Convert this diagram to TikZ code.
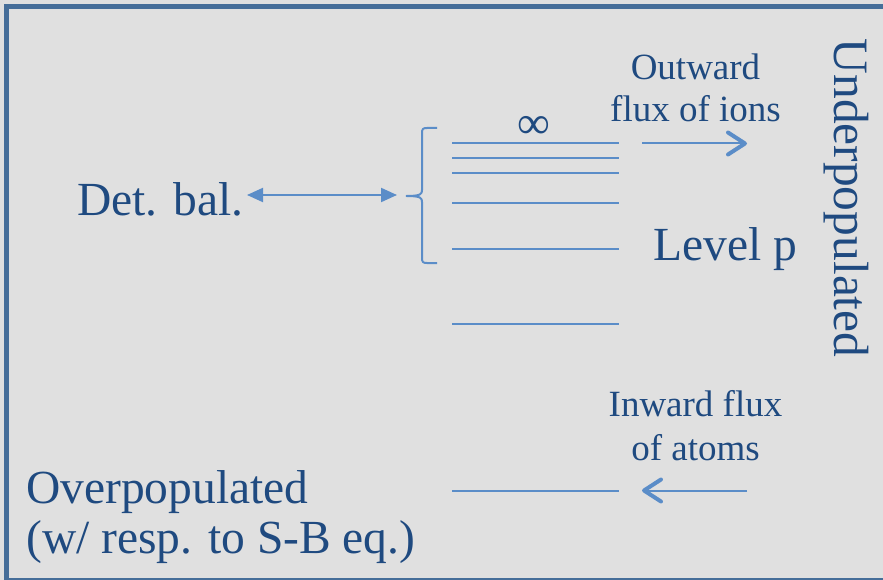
\documentclass[tikz,border=0pt]{standalone}
\usepackage{fontspec}
\setmainfont{Liberation Serif}
\usetikzlibrary{arrows.meta}
\definecolor{bg}{HTML}{E0E0E0}
\definecolor{frame}{HTML}{466E99}
\definecolor{txt}{HTML}{1F4A80}
\definecolor{ln}{HTML}{5B8DC8}
\tikzset{
  big/.style={font=\fontsize{47.5}{50}\selectfont, text=txt, inner sep=0pt},
  small/.style={font=\fontsize{37}{40}\selectfont, text=txt, inner sep=0pt},
  level/.style={draw=ln, line width=2pt},
  chev/.style={draw=ln, line width=2pt, -{Straight Barb[length=17pt,width=22pt,line width=4pt,round]}},
  dbl/.style={draw=ln, line width=2pt, {Triangle[length=16pt,width=14pt]}-{Triangle[length=16pt,width=14pt]}},
}
\begin{document}
\begin{tikzpicture}[x=1pt,y=-1pt]
\useasboundingbox (0,0) rectangle (883,580);
\begin{scope}
\clip (0,0) rectangle (883,580);
\fill[bg] (0,0) rectangle (883,580);
\draw[frame, line width=5pt] (6.5,7) rectangle (900,580.5);
\end{scope}

% energy levels
\coordinate (l1a) at (452,143); \coordinate (l1b) at (619,143);
\coordinate (l2a) at (452,158); \coordinate (l2b) at (619,158);
\coordinate (l3a) at (452,173); \coordinate (l3b) at (619,173);
\coordinate (l4a) at (452,203.5); \coordinate (l4b) at (619,203.5);
\coordinate (l5a) at (452,248.5); \coordinate (l5b) at (619,248.5);
\coordinate (l6a) at (452,323.5); \coordinate (l6b) at (619,323.5);
\coordinate (l7a) at (452,490.5); \coordinate (l7b) at (619,490.5);
\foreach \i in {1,...,7} {\draw[level] (l\i a) -- (l\i b);}

\node[font=\fontsize{46}{48}\selectfont, text=txt, inner sep=0pt, anchor=base] (inf) at (534,139) {∞};

% brace
\coordinate (brtip) at (406.5,196);
\draw[ln, line width=2pt, line join=round]
  (437,128) -- (427,128) .. controls (423,128) and (422,129) .. (422,133)
  -- (422,190) .. controls (422,194) and (421,196) .. (brtip)
  .. controls (421,196) and (422,198) .. (422,202)
  -- (422,258) .. controls (422,262) and (423,263) .. (427,263) -- (437,263);

% texts
\node[big, anchor=base west] (det) at (77,215) {Det. bal.};
\node[big, anchor=base west] (lev) at (653,260) {Level p};
\node[big, anchor=base west] (over1) at (26,503) {Overpopulated};
\node[big, anchor=base west] (over2) at (26,553) {(w/ resp. to S-B eq.)};
\node[font=\fontsize{49.5}{52}\selectfont, text=txt, inner sep=0pt, anchor=base, rotate=-90] (under) at (834,198) {Underpopulated};
\node[small, anchor=base] (out1) at (695.5,80) {Outward};
\node[small, anchor=base] (out2) at (695.5,121.5) {flux of ions};
\node[small, anchor=base] (in1) at (695.5,416.5) {Inward flux};
\node[small, anchor=base] (in2) at (695.5,460) {of atoms};

% arrows
\coordinate (dA) at (247,195);
\coordinate (dB) at (397,195);
\draw[dbl] (dA) -- (dB);
\coordinate (oA) at (642,143.5);
\coordinate (oB) at (747,143.5);
\draw[chev] (oA) -- (oB);
\coordinate (iA) at (747,490.5);
\coordinate (iB) at (642,490.5);
\draw[chev] (iA) -- (iB);
\end{tikzpicture}
\end{document}
